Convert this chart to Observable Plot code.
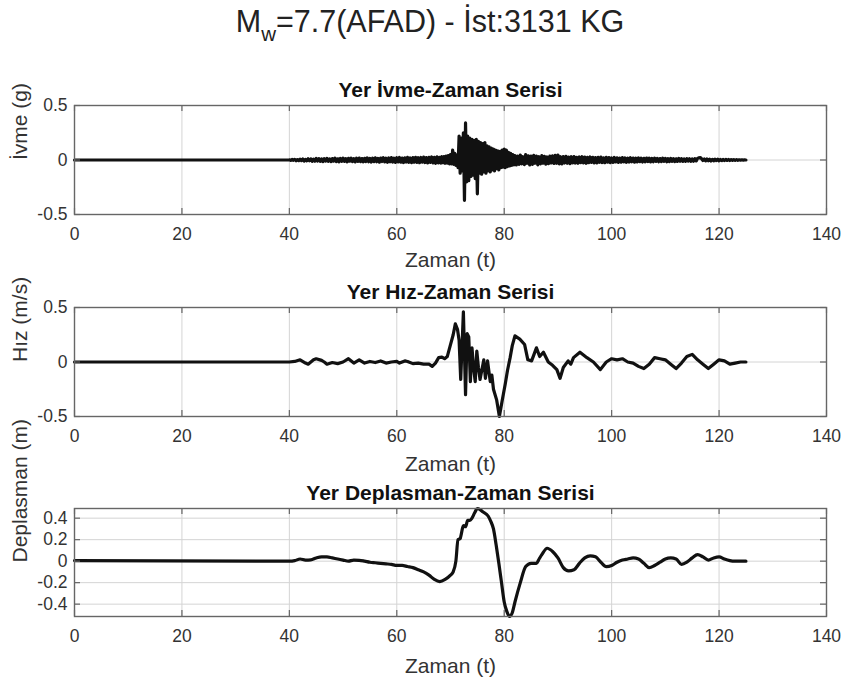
<!DOCTYPE html>
<html><head><meta charset="utf-8">
<script src="https://cdn.jsdelivr.net/npm/d3@7"></script>
<script src="https://cdn.jsdelivr.net/npm/@observablehq/plot@0.6"></script>
<style>
body{margin:0;background:#fff;}
#wrap{position:relative;width:842px;height:678px;background:#fff;overflow:hidden;}
.pane{position:absolute;left:0;}
</style></head><body><div id="wrap"></div>
<script>
// ---------- data ----------
const xTicks = [0, 20, 40, 60, 80, 100, 120, 140];
const accTicks = [-0.5, 0, 0.5];
const velTicks = [-0.5, 0, 0.5];
const dispTicks = [-0.4, -0.2, 0, 0.2, 0.4];

const titleMain = "=7.7(AFAD) - İst:3131 KG";
const titles = ["Yer İvme-Zaman Serisi", "Yer Hız-Zaman Serisi", "Yer Deplasman-Zaman Serisi"];
const yLabels = ["İvme (g)", "Hız (m/s)", "Deplasman (m)"];
const xLabel = "Zaman (t)";

// acceleration (g): quiet part, then sampled segments
const accQuietT = [0, 40];
const accQuietV = [0, 0];
const accPreStart = 40, accPreStep = 0.25;
const accPreV = [
  0.002,-0.004,0.005,-0.003,0.006,-0.007,0.004,-0.006,
  0.008,-0.005,0.009,-0.01,0.006,-0.008,0.011,-0.007,
  0.01,-0.012,0.008,-0.011,0.014,-0.009,0.012,-0.013,
  0.009,-0.014,0.013,-0.01,0.015,-0.012,0.01,-0.015,
  0.013,-0.011,0.016,-0.014,0.011,-0.016,0.014,-0.012,
  0.017,-0.013,0.012,-0.017,0.015,-0.011,0.016,-0.015,
  0.012,-0.018,0.016,-0.013,0.018,-0.015,0.013,-0.017,
  0.015,-0.014,0.019,-0.016,0.014,-0.019,0.017,-0.015,
  0.02,-0.016,0.015,-0.02,0.018,-0.014,0.021,-0.018,
  0.016,-0.021,0.019,-0.017,0.022,-0.019,0.017,-0.022,
  0.021,-0.018,0.023,-0.02,0.018,-0.023,0.02,-0.019,
  0.024,-0.021,0.019,-0.024,0.022,-0.02,0.025,-0.022,
  0.021,-0.025,0.023,-0.02,0.026,-0.023,0.022,-0.027,
  0.025,-0.022,0.028,-0.026,0.024,-0.03,0.029,-0.027];
const accMainStart = 68, accMainStep = 0.2;
const accMainV = [
  0.025,-0.028,0.03,-0.025,0.032,-0.03,0.035,-0.028,0.04,-0.035,
  0.05,-0.035,0.09,-0.04,0.06,-0.05,0.045,-0.07,0.22,-0.12,
  0.2,-0.1,0.25,-0.37,0.34,-0.2,0.22,-0.19,0.2,-0.15,
  0.19,-0.14,0.18,-0.17,0.19,-0.31,0.17,-0.12,0.16,-0.13,
  0.15,-0.11,0.16,-0.12,0.13,-0.1,0.12,-0.11,0.11,-0.09,
  0.1,-0.1,0.09,-0.08,0.085,-0.09,0.08,-0.07,0.09,-0.065,
  0.1,-0.07,0.09,-0.06,0.07,-0.055,0.06,-0.05,0.05,-0.045,
  0.04];
const accCodaStart = 82.25, accCodaStep = 0.25;
const accCodaV = [
  -0.045,0.035,-0.04,
  0.045,-0.035,0.03,-0.042,0.05,-0.03,0.038,-0.045,
  0.035,-0.04,0.042,-0.03,0.036,-0.044,0.03,-0.035,
  0.04,-0.03,0.033,-0.038,0.028,-0.034,0.036,-0.028,
  0.038,-0.032,0.042,-0.03,0.045,-0.035,0.03,-0.036,
  0.032,-0.028,0.034,-0.03,0.027,-0.033,0.03,-0.026,
  0.031,-0.028,0.025,-0.03,0.028,-0.024,0.03,-0.027,
  0.026,-0.03,0.024,-0.025,0.028,-0.022,0.025,-0.027,
  0.022,-0.026,0.024,-0.021,0.027,-0.023,0.02,-0.025,
  0.025,-0.02,0.022,-0.024,0.019,-0.022,0.023,-0.018,
  0.02,-0.022,0.018,-0.02,0.022,-0.017,0.019,-0.021,
  0.017,-0.019,0.021,-0.016,0.018,-0.02,0.016,-0.018,
  0.019,-0.015,0.017,-0.019,0.015,-0.017,0.018,-0.014,
  0.016,-0.018,0.014,-0.016,0.017,-0.013,0.015,-0.016,
  0.013,-0.015,0.016,-0.012,0.014,-0.016,0.012,-0.014,
  0.015,-0.012,0.013,-0.014,0.011,-0.013,0.014,-0.011,
  0.012,-0.013,0.01,-0.012,0.013,-0.01,0.011,-0.012,
  0.01,-0.011,0.012,-0.008,0.015,0.02,0.022,0.012,
  -0.005,0.01,-0.008,0.009,-0.007,0.008,-0.009,0.006,
  -0.007,0.008,-0.006,0.007,-0.008,0.005,-0.006,0.006,
  -0.005,0.006,-0.004,0.005,-0.005,0.004,-0.004,0.004,
  -0.003,0.003,-0.003,0.002,-0.002,0.002,-0.001,0.001,
  0];

// velocity (m/s)
const velT = [0,40,41,42,43,43.5,44.5,45,46,46.5,47,48,49,50,51,52,53,54,55,56,57,58,59,60,60.5,61.5,62,63,64,65,66,66.6,67.2,67.8,68.4,68.9,69.4,70.0,70.5,70.9,71.3,71.6,71.9,72.4,72.8,73.1,73.4,73.7,74.0,74.3,74.6,74.9,75.2,75.5,76.2,76.5,76.9,77.4,77.7,78.0,78.6,79.1,79.6,80.2,80.6,81.1,81.5,82.0,82.9,83.8,84.4,85.1,86.0,86.6,87.3,88.2,89.0,89.8,90.4,91.0,91.9,92.4,92.9,94.1,95.4,96.6,97.9,99,100,101,102,103,104,105,106,107,108,109,110,111,112,113,114,115,116,117,118,119,120,121,122,123,124,125];
const velV = [0,0,0.005,0.02,-0.01,-0.02,0.02,0.03,0.015,0,-0.02,-0.005,-0.015,0,0.03,-0.01,0.02,-0.01,0.005,-0.005,0.01,-0.01,0,0.005,-0.01,0.01,0.005,-0.015,-0.01,-0.02,-0.02,-0.04,-0.01,0.04,0.045,0.03,0.05,0.16,0.25,0.35,0.3,0.2,-0.16,0.46,-0.3,0.26,0.23,-0.18,0.13,-0.05,-0.18,0.1,-0.05,-0.16,0.02,-0.15,0.01,-0.18,-0.12,-0.25,-0.35,-0.5,-0.36,-0.2,-0.08,0.04,0.15,0.24,0.21,0.16,0.02,0.01,0.13,0.05,0.09,0,-0.03,-0.07,-0.15,-0.05,0.01,-0.02,0.04,0.09,0.04,0,-0.07,0,0.03,0.02,0.03,0,-0.01,-0.04,-0.06,-0.02,0.04,0.03,0.02,-0.02,-0.06,-0.01,0.05,0.07,0.02,-0.02,-0.06,-0.02,0.02,0.01,-0.02,-0.01,0,0];

// displacement (m)
const dispT = [0,40,41,42,43,44,45,46,47,48,49,50,51,52,53,54,55,56,57,58,59,60,61,62,63,64,65,66,67,68,69,70,70.5,71,71.4,71.8,72.0,72.4,72.8,73.2,73.6,74.0,74.5,75.0,75.5,76.0,77.0,77.5,78.0,78.5,79.0,79.5,80.0,80.5,81.0,81.5,82.0,83,84,85,86,86.5,87,88,89,90,91,92,93,94,95,96,97,98,99,100,101,102,103,104,105,106,107,108,109,110,111,112,113,114,115,116,117,118,119,120,121,122,123,124,125];
const dispV = [0.005,0,0.005,0.02,0.01,0.012,0.03,0.04,0.04,0.03,0.02,0.01,0,0.01,0.008,0,-0.01,-0.015,-0.02,-0.025,-0.03,-0.04,-0.04,-0.05,-0.06,-0.08,-0.1,-0.13,-0.17,-0.19,-0.17,-0.13,-0.1,0,0.2,0.21,0.25,0.33,0.32,0.38,0.38,0.4,0.45,0.49,0.48,0.46,0.42,0.37,0.3,0.15,-0.02,-0.2,-0.38,-0.47,-0.515,-0.48,-0.38,-0.2,-0.05,-0.02,-0.02,0.02,0.06,0.12,0.09,0.03,-0.06,-0.09,-0.08,-0.02,0.03,0.05,0.04,-0.01,-0.05,-0.04,-0.01,0.01,0.02,0.03,0.02,-0.02,-0.06,-0.04,-0.01,0.02,0.03,0.02,-0.03,-0.01,0.03,0.06,0.04,0.01,0.03,0.04,0.02,0.005,0,0,0];

// ---------- build tables ----------
const seg = (start, step, vals) => vals.map((v, i) => ({t: start + i * step, v}));
const pairs = (T, V) => T.map((t, i) => ({t, v: V[i]}));
const accData = [...pairs(accQuietT, accQuietV), ...seg(accPreStart, accPreStep, accPreV),
  ...seg(accMainStart, accMainStep, accMainV), ...seg(accCodaStart, accCodaStep, accCodaV)];
const velData = pairs(velT, velV);
const dispData = pairs(dispT, dispV);

// ---------- drawing ----------
const FONT = '"Liberation Sans", Arial, Helvetica, sans-serif';
const GRID = "#d4d4d4", AX = "#666", TXT = "#333";
const W = 842, ML = 74, MR = 16, FW = W - ML - MR;
const wrap = document.getElementById("wrap");

// main title
const ns = "http://www.w3.org/2000/svg";
const tsvg = document.createElementNS(ns, "svg");
tsvg.setAttribute("width", W); tsvg.setAttribute("height", 50);
tsvg.setAttribute("class", "pane"); tsvg.style.top = "0px";
tsvg.innerHTML = `<text x="430" y="32" text-anchor="middle" font-family='${FONT}' font-size="30.5" fill="#222">M<tspan dy="9" font-size="20.5">w</tspan><tspan dy="-9"></tspan></text>`;
tsvg.querySelector("tspan:last-child").textContent = titleMain;
wrap.appendChild(tsvg);

function panel({data, yDomain, yTicks, title, ylabel, top, mt, fh, mb, curve, xlOff}) {
  const H = mt + fh + mb;
  const p = Plot.plot({
    width: W, height: H,
    marginLeft: ML, marginRight: MR, marginTop: mt, marginBottom: mb,
    style: {background: "transparent", overflow: "visible", fontFamily: FONT, color: TXT},
    x: {domain: [0, 140]},
    y: {domain: yDomain},
    marks: [
      Plot.ruleX(xTicks, {x: d => d, stroke: GRID, strokeWidth: 1}),
      Plot.ruleY(yTicks, {y: d => d, stroke: GRID, strokeWidth: 1}),
      Plot.line(data, {x: "t", y: "v", stroke: "#111", strokeWidth: 3.2, curve}),
      Plot.ruleX(xTicks, {x: d => d, insetTop: fh - 6, stroke: AX, strokeWidth: 1.2}),
      Plot.ruleX(xTicks, {x: d => d, insetBottom: fh - 6, stroke: AX, strokeWidth: 1.2}),
      Plot.ruleY(yTicks, {y: d => d, insetRight: FW - 6, stroke: AX, strokeWidth: 1.2}),
      Plot.ruleY(yTicks, {y: d => d, insetLeft: FW - 6, stroke: AX, strokeWidth: 1.2}),
      Plot.frame({stroke: AX, strokeWidth: 1.4}),
      Plot.axisX(xTicks, {tickSize: 0, tickPadding: 13, fontSize: 17.5, tickFormat: d => String(d), label: null}),
      Plot.axisY(yTicks, {tickSize: 0, tickPadding: 7, fontSize: 17.5, tickFormat: d => String(d), label: null}),
      Plot.text([xLabel], {text: d => d, frameAnchor: "bottom", dy: xlOff, lineAnchor: "middle", fontSize: 21, fill: TXT}),
      Plot.text([ylabel], {text: d => d, frameAnchor: "left", dx: -54, rotate: -90, lineAnchor: "middle", fontSize: 21, fill: TXT}),
      Plot.text([title], {text: d => d, frameAnchor: "top", dy: -9, lineAnchor: "bottom", fontSize: 21, fontWeight: "bold", fill: "#111"})
    ]
  });
  p.setAttribute("class", (p.getAttribute("class") || "") + " pane");
  p.style.position = "absolute"; p.style.left = "0px"; p.style.top = top + "px";
  wrap.appendChild(p);
}

panel({data: accData, yDomain: [-0.5, 0.5], yTicks: accTicks, title: titles[0], ylabel: yLabels[0],
  top: 40, mt: 65, fh: 109, mb: 66, curve: "linear", xlOff: 46});
panel({data: velData, yDomain: [-0.5, 0.5], yTicks: velTicks, title: titles[1], ylabel: yLabels[1],
  top: 280, mt: 27, fh: 109, mb: 64, curve: "linear", xlOff: 48});
panel({data: dispData, yDomain: [-0.515, 0.49], yTicks: dispTicks, title: titles[2], ylabel: yLabels[2],
  top: 480, mt: 28, fh: 108, mb: 62, curve: "monotone-x", xlOff: 50});
</script></body></html>
